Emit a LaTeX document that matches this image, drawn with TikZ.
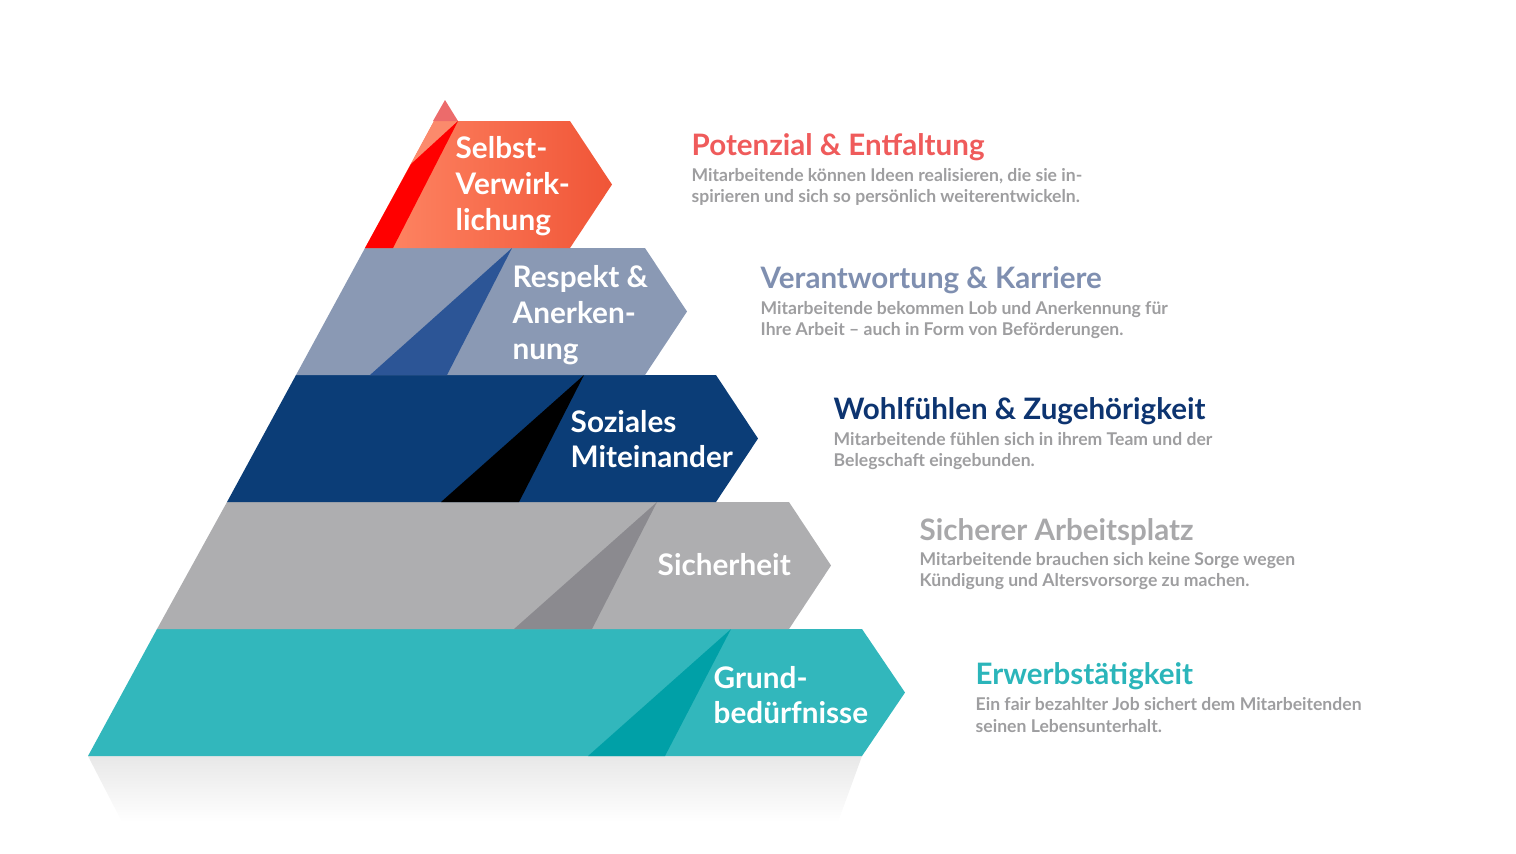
\documentclass[tikz,border=0pt]{standalone}
\usepackage{fontspec}
\setmainfont{Lato}

\definecolor{redlight}{HTML}{FF8866}
\definecolor{reddark}{HTML}{F05537}
\definecolor{redfold}{HTML}{FB8A6C}
\definecolor{redtip}{HTML}{EC6B6B}
\definecolor{redstripe}{HTML}{FF0000}
\definecolor{slate}{HTML}{8A99B4}
\definecolor{slatestripe}{HTML}{2C5596}
\definecolor{navy}{HTML}{0B3D77}
\definecolor{grey}{HTML}{AEAEB0}
\definecolor{greystripe}{HTML}{8B8A8F}
\definecolor{teal}{HTML}{32B7BC}
\definecolor{tealstripe}{HTML}{00A0A7}
\definecolor{headred}{HTML}{EF5B5B}
\definecolor{headslate}{HTML}{7F8FB0}
\definecolor{headnavy}{HTML}{0D3470}
\definecolor{headgrey}{HTML}{A8A8AA}
\definecolor{headteal}{HTML}{2BB5BA}
\definecolor{bodygray}{HTML}{9E9EA0}

\tikzset{
	tierlabel/.style={text=white, font=\bfseries\fontsize{8.45}{10.2}\selectfont, align=left, anchor=west, inner sep=0pt},
	headline/.style={font=\bfseries\fontsize{8.4}{10}\selectfont, anchor=base west, inner sep=0pt},
	bodytext/.style={text=bodygray, font=\bfseries\fontsize{5.0}{6.2}\selectfont, align=left, anchor=west, inner sep=0pt}
}

\begin{document}
\begin{tikzpicture}[x=0.01cm, y=-0.01cm]
		
		\useasboundingbox (0,0) rectangle (1516,853);
		
		% shadow under the pyramid
		\shade[top color=black!9, bottom color=white] (88,756) -- (862,756) -- (838,822) -- (122,822) -- cycle;
		
		% tier 5
		\fill[teal] (88,756) -- (157,629) -- (862,629) -- (905,692.5) -- (862,756) -- cycle;
		\fill[tealstripe] (731,629) -- (588,756) -- (665,756) -- cycle;
		
		% tier 4
		\fill[grey] (157,629) -- (227,502) -- (789,502) -- (831,565.5) -- (789,629) -- cycle;
		\fill[greystripe] (657,502) -- (514,629) -- (592,629) -- cycle;
		
		% tier 3
		\fill[navy] (227,502) -- (296,375) -- (716,375) -- (758,438.5) -- (716,502) -- cycle;
		\fill[black] (584,375) -- (441,502) -- (519,502) -- cycle;
		
		% tier 2
		\fill[slate] (296,375) -- (365,248) -- (645,248) -- (687,311.5) -- (645,375) -- cycle;
		\fill[slatestripe] (512,248) -- (370,375) -- (447,375) -- cycle;
		
		% tier 1
		\shade[left color=redlight, right color=reddark] (365,248) -- (434,121) -- (570,121) -- (612,184.5) -- (570,248) -- cycle;
		\fill[redfold] (411,164) -- (434,121) -- (458,121) -- cycle;
		\fill[redstripe] (365,248) -- (411,164) -- (458,121) -- (393,248) -- cycle;
		\fill[redtip] (445,100) -- (433,121) -- (458,121) -- cycle;
		
		% labels in the pyramid
		\node[tierlabel] (selbst) at (455,186) {Selbst-\\Verwirk-\\lichung};
		\node[tierlabel] (respekt) at (512,315) {Respekt \&\\Anerken-\\nung};
		\node[tierlabel] (sozial) at (570,439) {Soziales\\Miteinander};
		\node[tierlabel] (sicher) at (657,565) {Sicherheit};
		\node[tierlabel] (grund) at (713,695) {Grund-\\bedürfnisse};
		
		% descriptions
		\node[headline, text=headred] (potenzial) at (691,155) {Potenzial \& Entfaltung};
		\node[bodytext] (potenzialtext) at (691,187) {Mitarbeitende können Ideen realisieren, die sie in-\\spirieren und sich so persönlich weiterentwickeln.};
		
		\node[headline, text=headslate] (karriere) at (760,288) {Verantwortung \& Karriere};
		\node[bodytext] (karrieretext) at (760,320) {Mitarbeitende bekommen Lob und Anerkennung für\\Ihre Arbeit – auch in Form von Beförderungen.};
		
		\node[headline, text=headnavy] (wohl) at (833,419) {Wohlfühlen \& Zugehörigkeit};
		\node[bodytext] (wohltext) at (833,451) {Mitarbeitende fühlen sich in ihrem Team und der\\Belegschaft eingebunden.};
		
		\node[headline, text=headgrey] (arbeitsplatz) at (919,540) {Sicherer Arbeitsplatz};
		\node[bodytext] (arbeitsplatztext) at (919,571) {Mitarbeitende brauchen sich keine Sorge wegen\\Kündigung und Altersvorsorge zu machen.};
		
		\node[headline, text=headteal] (erwerb) at (975,684) {Erwerbstätigkeit};
		\node[bodytext] (erwerbtext) at (975,715) {Ein fair bezahlter Job sichert dem Mitarbeitenden\\seinen Lebensunterhalt.};
		
	\end{tikzpicture}
\end{document}
